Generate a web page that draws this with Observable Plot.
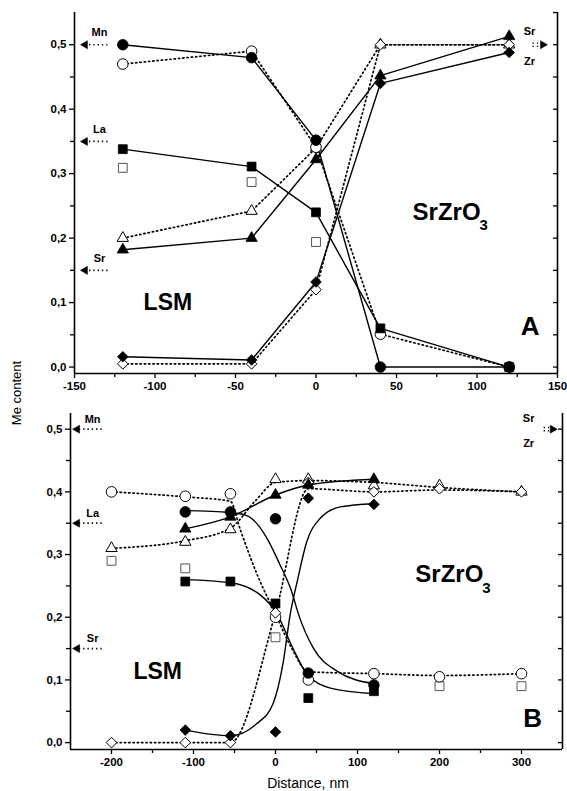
<!DOCTYPE html>
<html><head><meta charset="utf-8">
<script src="https://cdn.jsdelivr.net/npm/d3@7"></script>
<script src="https://cdn.jsdelivr.net/npm/@observablehq/plot@0.6"></script>
<style>
body{margin:0;background:#fff;}
#wrap{position:relative;width:567px;height:791px;font-family:"Liberation Sans",Arial,sans-serif;color:#000;}
#a{position:absolute;left:0;top:0;}
#b{position:absolute;left:0;top:400px;}
#ylab{position:absolute;left:16px;top:393px;transform:translate(-50%,-50%) rotate(-90deg);font-size:13px;white-space:nowrap;}
#xlab{position:absolute;left:308px;top:783px;transform:translate(-50%,-50%);font-size:14px;white-space:nowrap;}
</style></head>
<body>
<div id="wrap"><div id="a"></div><div id="b"></div><div id="ylab">Me content</div><div id="xlab">Distance, nm</div></div>
<script>
// ---------- Panel A data ----------
const xA = [-120, -40, 0, 40, 120];
const mnFilledA = [0.50, 0.48, 0.352, 0.0, 0.0];
const mnOpenA   = [0.47, 0.49, 0.341, 0.051, 0.0];
const laFilledA = [0.338, 0.311, 0.24, 0.06, 0.0];
const laOpenA   = [0.309, 0.287, 0.194, null, null];
const srFilledA = [0.182, 0.20, 0.322, 0.452, 0.513];
const srOpenA   = [0.20, 0.242, 0.34, 0.50, 0.50];
const zrFilledA = [0.016, 0.011, 0.132, 0.44, 0.488];
const zrOpenA   = [0.005, 0.005, 0.12, 0.50, 0.50];

// ---------- Panel B data ----------
const xB = [-200, -110, -55, 0, 40, 120, 200, 300];
const mnFilledB = [null, 0.368, 0.368, 0.357, 0.111, 0.092, null, null];
const laFilledB = [null, 0.257, 0.257, 0.222, 0.071, 0.082, null, null];
const srFilledB = [null, 0.341, 0.36, 0.395, 0.411, 0.42, null, null];
const zrFilledB = [null, 0.02, 0.011, 0.017, 0.39, 0.38, null, null];
const mnOpenB = [0.40, 0.393, 0.397, 0.20, 0.10, 0.11, 0.105, 0.11];
const laOpenB = [0.29, 0.278, null, 0.168, null, null, 0.09, 0.09];
const srOpenB = [0.31, 0.32, 0.34, 0.42, 0.42, 0.41, 0.41, 0.40];
const zrOpenB = [0.0, 0.0, 0.0, 0.207, 0.415, 0.40, 0.405, 0.40];

// dotted guide lines in B (traced)
const mnLineBx = [-200, -110, -55, -43, -23, 0, 20, 40, 120, 200, 300];
const mnLineBv = [0.40, 0.392, 0.385, 0.34, 0.27, 0.205, 0.15, 0.113, 0.11, 0.107, 0.11];
const srLineBx = [-200, -110, -55, -25, 0, 40, 120, 200, 300];
const srLineBv = [0.31, 0.322, 0.342, 0.385, 0.415, 0.418, 0.415, 0.407, 0.40];
const zrLineBx = [-200, -110, -55, 0, 40, 120, 200, 300];
const zrLineBv = [0.0, 0.0, 0.0, 0.207, 0.405, 0.40, 0.403, 0.40];

// solid fitted curves in B (traced)
const mnCurveBx = [-110, -55, -35, -20, -10, 5, 20, 28, 46, 75, 120];
const mnCurveBv = [0.37, 0.367, 0.362, 0.345, 0.325, 0.285, 0.24, 0.205, 0.151, 0.114, 0.094];
const laCurveBx = [-110, -55, -19, 2, 21, 38, 67, 120];
const laCurveBv = [0.26, 0.255, 0.236, 0.205, 0.151, 0.11, 0.087, 0.078];
const zrCurveBx = [-110, -55, -23, -3, 9, 18, 27, 38, 54, 79, 120];
const zrCurveBv = [0.02, 0.011, 0.03, 0.062, 0.125, 0.205, 0.26, 0.32, 0.357, 0.376, 0.381];
const srCurveBx = [-110, -55, 0, 40, 120];
const srCurveBv = [0.341, 0.36, 0.395, 0.411, 0.42];

// ---------- ticks ----------
const xTicksA = [-150, -100, -50, 0, 50, 100, 150];
const xMinorA = [-125, -75, -25, 25, 75, 125];
const xTicksB = [-200, -100, 0, 100, 200, 300];
const xMinorB = [-150, -50, 50, 150, 250];
const yTicks = [0, 0.1, 0.2, 0.3, 0.4, 0.5];
const yMinor = [0.05, 0.15, 0.25, 0.35, 0.45];
const yRightA = [0, 0.05, 0.1, 0.15, 0.2, 0.25, 0.3, 0.35, 0.4, 0.45, 0.5, 0.55];
const yRightB = [0, 0.05, 0.1, 0.15, 0.2, 0.25, 0.3, 0.35, 0.4, 0.45, 0.5];

// reference levels (nominal compositions)
const refLevels = [{el: "Mn", v: 0.5}, {el: "La", v: 0.35}, {el: "Sr", v: 0.15}];

const rows = (xs, vs) => xs.map((x, i) => ({x, y: vs[i]})).filter(d => d.y != null);
const fmtY = d => d.toFixed(1).replace(".", ",");
const FONT = '"Liberation Sans", Arial, Helvetica, sans-serif';

const DOT = {strokeDasharray: "1.3,3", strokeWidth: 1.7, stroke: "black"};
const SOLID = {strokeWidth: 1.4, stroke: "black"};
const R = {circle: 5.3, square: 5, triangle: 4.2, diamond2: 4.8};

function filled(data, sym) { return Plot.dot(data, {x: "x", y: "y", symbol: sym, r: R[sym], fill: "black", stroke: "black", strokeWidth: 0.8}); }
function open(data, sym, col = "black") { return Plot.dot(data, {x: "x", y: "y", symbol: sym, r: R[sym], fill: "white", stroke: col, strokeWidth: 1}); }

function frameMarks(xDom, yDom, xT, xM, yR) {
  return [
    Plot.axisX({ticks: xT, tickSize: 5, tickPadding: 3, tickFormat: d => String(d), label: null, strokeWidth: 1.3}),
    Plot.axisX({ticks: xM, tickSize: 4, tickFormat: () => "", label: null, strokeWidth: 1.3}),
    Plot.axisY({ticks: yTicks, tickSize: 5, tickPadding: 3, tickFormat: fmtY, label: null, strokeWidth: 1.3}),
    Plot.axisY({ticks: yMinor, tickSize: 4, tickFormat: () => "", label: null, strokeWidth: 1.3}),
    Plot.axisY({ticks: yR, anchor: "right", tickSize: 5, dx: -5, tickFormat: () => "", label: null, strokeWidth: 1.3}),
    Plot.ruleX([xDom[0], xDom[1]], {strokeWidth: 1.6}),
    Plot.ruleY([yDom[0]], {strokeWidth: 1.6})
  ];
}

function leftArrows(xTail, xHead, xLab, dyLab) {
  return [
    Plot.link(refLevels, {x1: () => xTail, x2: () => xHead, y1: "v", y2: "v", ...DOT}),
    Plot.dot(refLevels, {x: () => xHead, y: "v", symbol: "triangle", r: 3, rotate: -90, fill: "black", stroke: "black", strokeWidth: 0.5}),
    Plot.text(refLevels, {x: () => xLab, y: "v", text: "el", dy: dyLab, fontSize: 11, fontWeight: "bold"})
  ];
}
function rightArrow(xTail, xHead, xLab, dySr, dyZr) {
  const lvl = [{v: 0.5}];
  return [
    Plot.link(lvl, {x1: () => xTail, x2: () => xHead, y1: "v", y2: "v", dy: -1.6, ...DOT, strokeWidth: 1.4}),
    Plot.link(lvl, {x1: () => xTail, x2: () => xHead, y1: "v", y2: "v", dy: 1.6, ...DOT, strokeWidth: 1.4}),
    Plot.dot(lvl, {x: () => xHead, y: "v", symbol: "triangle", r: 3, rotate: 90, fill: "black", stroke: "black", strokeWidth: 0.5}),
    Plot.text([{t: "Sr", v: 0.5}], {x: () => xLab, y: "v", text: "t", dy: dySr, fontSize: 11, fontWeight: "bold"}),
    Plot.text([{t: "Zr", v: 0.5}], {x: () => xLab, y: "v", text: "t", dy: dyZr, fontSize: 11, fontWeight: "bold"})
  ];
}

// ---------- Panel A ----------
const domXA = [-150, 150], domYA = [-0.01, 0.55];
const plotA = Plot.plot({
  width: 567, height: 400,
  marginLeft: 74, marginRight: 10, marginTop: 12, marginBottom: 27,
  x: {domain: domXA}, y: {domain: domYA},
  style: {fontFamily: FONT, fontSize: "11.5px", fontWeight: "bold", background: "white", color: "black"},
  marks: [
    ...frameMarks(domXA, domYA, xTicksA, xMinorA, yRightA),
    Plot.line(rows(xA, mnOpenA), {x: "x", y: "y", ...DOT}),
    Plot.line(rows(xA, srOpenA), {x: "x", y: "y", ...DOT}),
    Plot.line(rows(xA, zrOpenA), {x: "x", y: "y", ...DOT}),
    Plot.line(rows(xA, mnFilledA), {x: "x", y: "y", ...SOLID}),
    Plot.line(rows(xA, laFilledA), {x: "x", y: "y", ...SOLID}),
    Plot.line(rows(xA, srFilledA), {x: "x", y: "y", ...SOLID}),
    Plot.line(rows(xA, zrFilledA), {x: "x", y: "y", ...SOLID}),
    open(rows(xA, laOpenA), "square", "#555"),
    open(rows(xA, srOpenA), "triangle"),
    open(rows(xA, mnOpenA), "circle"),
    open(rows(xA, zrOpenA), "diamond2"),
    filled(rows(xA, laFilledA), "square"),
    filled(rows(xA, mnFilledA), "circle"),
    filled(rows(xA, srFilledA), "triangle"),
    filled(rows(xA, zrFilledA), "diamond2"),
    ...leftArrows(-129.5, -143.4, -134.5, -12),
    ...rightArrow(134.5, 140.9, 132.6, -13, 17),
    Plot.text([{t: "LSM", x: -92, y: 0.1}], {x: "x", y: "y", text: "t", fontSize: 23, fontWeight: "bold"}),
    Plot.text([{t: "SrZrO", x: 60, y: 0.24}], {x: "x", y: "y", text: "t", textAnchor: "start", fontSize: 24, fontWeight: "bold"}),
    Plot.text([{t: "3", x: 101.5, y: 0.22}], {x: "x", y: "y", text: "t", textAnchor: "start", fontSize: 15, fontWeight: "bold"}),
    Plot.text([{t: "A", x: 133, y: 0.062}], {x: "x", y: "y", text: "t", fontSize: 26, fontWeight: "bold"})
  ]
});
document.getElementById("a").appendChild(plotA);

// ---------- Panel B ----------
const domXB = [-250, 350], domYB = [-0.011, 0.525];
const plotB = Plot.plot({
  width: 567, height: 391,
  marginLeft: 70, marginRight: 5, marginTop: 13, marginBottom: 42,
  x: {domain: domXB}, y: {domain: domYB},
  style: {fontFamily: FONT, fontSize: "11.5px", fontWeight: "bold", background: "white", color: "black"},
  marks: [
    ...frameMarks(domXB, domYB, xTicksB, xMinorB, yRightB),
    Plot.line(rows(mnLineBx, mnLineBv), {x: "x", y: "y", curve: "monotone-x", ...DOT}),
    Plot.line(rows(srLineBx, srLineBv), {x: "x", y: "y", curve: "monotone-x", ...DOT}),
    Plot.line(rows(zrLineBx, zrLineBv), {x: "x", y: "y", curve: "monotone-x", ...DOT}),
    Plot.line(rows(mnCurveBx, mnCurveBv), {x: "x", y: "y", curve: "monotone-x", ...SOLID}),
    Plot.line(rows(laCurveBx, laCurveBv), {x: "x", y: "y", curve: "monotone-x", ...SOLID}),
    Plot.line(rows(zrCurveBx, zrCurveBv), {x: "x", y: "y", curve: "monotone-x", ...SOLID}),
    Plot.line(rows(srCurveBx, srCurveBv), {x: "x", y: "y", curve: "monotone-x", ...SOLID}),
    open(rows(xB, laOpenB), "square", "#555"),
    open(rows(xB, mnOpenB), "circle"),
    open(rows(xB, srOpenB), "triangle"),
    open(rows(xB, zrOpenB), "diamond2"),
    filled(rows(xB, laFilledB), "square"),
    filled(rows(xB, mnFilledB), "circle"),
    filled(rows(xB, srFilledB), "triangle"),
    filled(rows(xB, zrFilledB), "diamond2"),
    ...leftArrows(-212, -241.8, -223, -10),
    ...rightArrow(327, 338, 308.7, -11, 14),
    Plot.text([{t: "LSM", x: -143.6, y: 0.114}], {x: "x", y: "y", text: "t", fontSize: 23, fontWeight: "bold"}),
    Plot.text([{t: "SrZrO", x: 170.5, y: 0.268}], {x: "x", y: "y", text: "t", textAnchor: "start", fontSize: 24, fontWeight: "bold"}),
    Plot.text([{t: "3", x: 252, y: 0.246}], {x: "x", y: "y", text: "t", textAnchor: "start", fontSize: 15, fontWeight: "bold"}),
    Plot.text([{t: "B", x: 313.6, y: 0.038}], {x: "x", y: "y", text: "t", fontSize: 26, fontWeight: "bold"})
  ]
});
document.getElementById("b").appendChild(plotB);
</script>
</body></html>
